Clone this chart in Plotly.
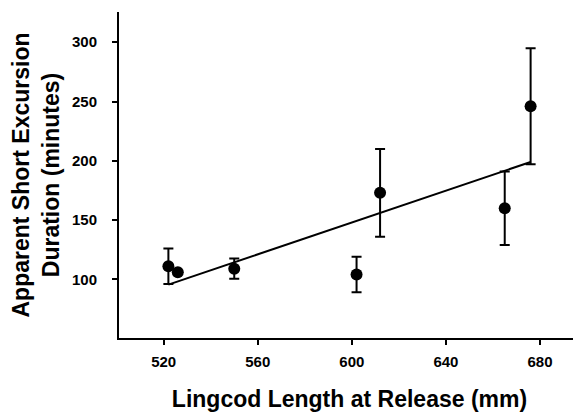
import plotly.graph_objects as go

length_mm = [522, 526, 550, 602, 612, 665, 676]
duration_min = [111, 106, 109, 104, 173, 160, 246]
duration_err = [15, 0, 8.5, 15, 37, 31, 49]

fit_x = [522, 676]
fit_y = [95.5, 199]

x_ticks = [520, 560, 600, 640, 680]
y_ticks = [100, 150, 200, 250, 300]

FONT = "Liberation Sans, Arial, sans-serif"

fig = go.Figure()
fig.add_trace(go.Scatter(
    x=fit_x, y=fit_y, mode="lines",
    line=dict(color="black", width=2), showlegend=False, hoverinfo="skip"))
fig.add_trace(go.Scatter(
    x=length_mm, y=duration_min, mode="markers",
    marker=dict(color="black", size=12),
    error_y=dict(type="data", array=duration_err, visible=True,
                 color="black", thickness=2, width=5),
    showlegend=False))

fig.update_layout(
    width=573, height=406,
    margin=dict(l=111, r=1, t=4, b=76),
    plot_bgcolor="white", paper_bgcolor="white",
    font=dict(family=FONT, color="black"),
)
fig.update_xaxes(
    range=[501, 697], tickvals=x_ticks, showgrid=False, zeroline=False,
    showline=True, linecolor="black", linewidth=2, automargin=False,
    ticks="outside", ticklen=5, tickwidth=2, tickcolor="black",
    tickfont=dict(family=FONT, size=15, weight="bold"),
    ticklabelstandoff=4,
    title=dict(text="Lingcod Length at Release (mm)",
               font=dict(family=FONT, size=23, weight="bold"), standoff=22),
)
fig.update_yaxes(
    range=[50.5, 325.5], tickvals=y_ticks, showgrid=False, zeroline=False,
    showline=True, linecolor="black", linewidth=2, automargin=False,
    ticks="outside", ticklen=5, tickwidth=2, tickcolor="black",
    tickfont=dict(family=FONT, size=15, weight="bold"),
    ticklabelstandoff=12,
    title=dict(text="Apparent Short Excursion<br>Duration (minutes)",
               font=dict(family=FONT, size=23, weight="bold"), standoff=8),
)

fig.write_html("out.html")
